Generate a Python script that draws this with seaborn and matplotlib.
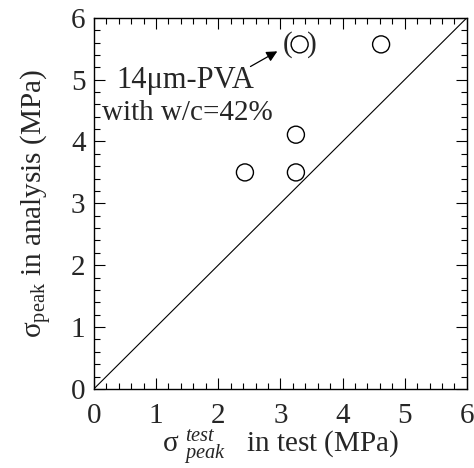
import matplotlib
matplotlib.use("Agg")
import matplotlib.pyplot as plt
import seaborn as sns
import pandas as pd
from matplotlib.ticker import MultipleLocator

sns.set_theme(style="white")
plt.rcParams['font.family'] = 'serif'
plt.rcParams['font.serif'] = ['Liberation Serif', 'STIXGeneral', 'DejaVu Serif']
plt.rcParams['mathtext.fontset'] = 'custom'
plt.rcParams['mathtext.rm'] = 'Liberation Serif'
plt.rcParams['mathtext.it'] = 'Liberation Serif:italic'
plt.rcParams['mathtext.bf'] = 'Liberation Serif:bold'

test_vals = [2.43, 3.25, 3.25, 4.62]
analysis_vals = [3.50, 4.11, 3.50, 5.57]
paren_test = [3.31]
paren_analysis = [5.57]
diag = [0, 6]

df = pd.DataFrame({"test": test_vals, "analysis": analysis_vals})
dfp = pd.DataFrame({"test": paren_test, "analysis": paren_analysis})
dfd = pd.DataFrame({"x": diag, "y": diag})

fig = plt.figure(figsize=(4.74, 4.68), dpi=100)
ax = fig.add_axes([0.198, 0.169, 0.787, 0.793])

sns.lineplot(data=dfd, x="x", y="y", ax=ax, color="black", lw=0.8)
sns.scatterplot(data=df, x="test", y="analysis", ax=ax, s=150, marker="o",
                facecolor="none", edgecolor="black", linewidth=1.0)
sns.scatterplot(data=dfp, x="test", y="analysis", ax=ax, s=150, marker="o",
                facecolor="none", edgecolor="black", linewidth=1.0)

for xv, yv in zip(paren_test, paren_analysis):
    ax.annotate("(", (xv, yv), xytext=(-8.5, 0), textcoords="offset points",
                ha="center", va="center", fontsize=21)
    ax.annotate(")", (xv, yv), xytext=(8.5, 0), textcoords="offset points",
                ha="center", va="center", fontsize=21)
    ax.annotate("", xy=(2.99, 5.48), xytext=(2.48, 5.19),
                arrowprops=dict(arrowstyle="-|>", color="black", lw=0.9,
                                mutation_scale=16))

ax.text(1.47, 4.98, "14μm-PVA", ha="center", va="center", fontsize=22)
ax.text(1.5, 4.46, "with w/c=42%", ha="center", va="center", fontsize=21)

ax.set_xlim(0, 6)
ax.set_ylim(0, 6)
ax.xaxis.set_major_locator(MultipleLocator(1))
ax.yaxis.set_major_locator(MultipleLocator(1))
ax.xaxis.set_minor_locator(MultipleLocator(0.2))
ax.yaxis.set_minor_locator(MultipleLocator(0.2))
ax.tick_params(which="both", direction="in", top=True, right=True,
               bottom=True, left=True, color="black", width=0.8)
ax.tick_params(which="major", length=8, labelsize=21)
ax.tick_params(axis="x", which="major", pad=10)
ax.tick_params(axis="y", which="major", pad=6)
ax.tick_params(which="minor", length=4)
for s in ax.spines.values():
    s.set_color("black")
    s.set_linewidth(1.0)

ax.set_xlabel(r"σ ${}^{\mathit{test}}_{\mathit{peak}}$   in test (MPa)", fontsize=21, labelpad=-1)
ax.set_ylabel(r"σ$_{\mathrm{peak}}$ in analysis (MPa)", fontsize=21, labelpad=12)

fig.savefig("out.png", dpi=100)
